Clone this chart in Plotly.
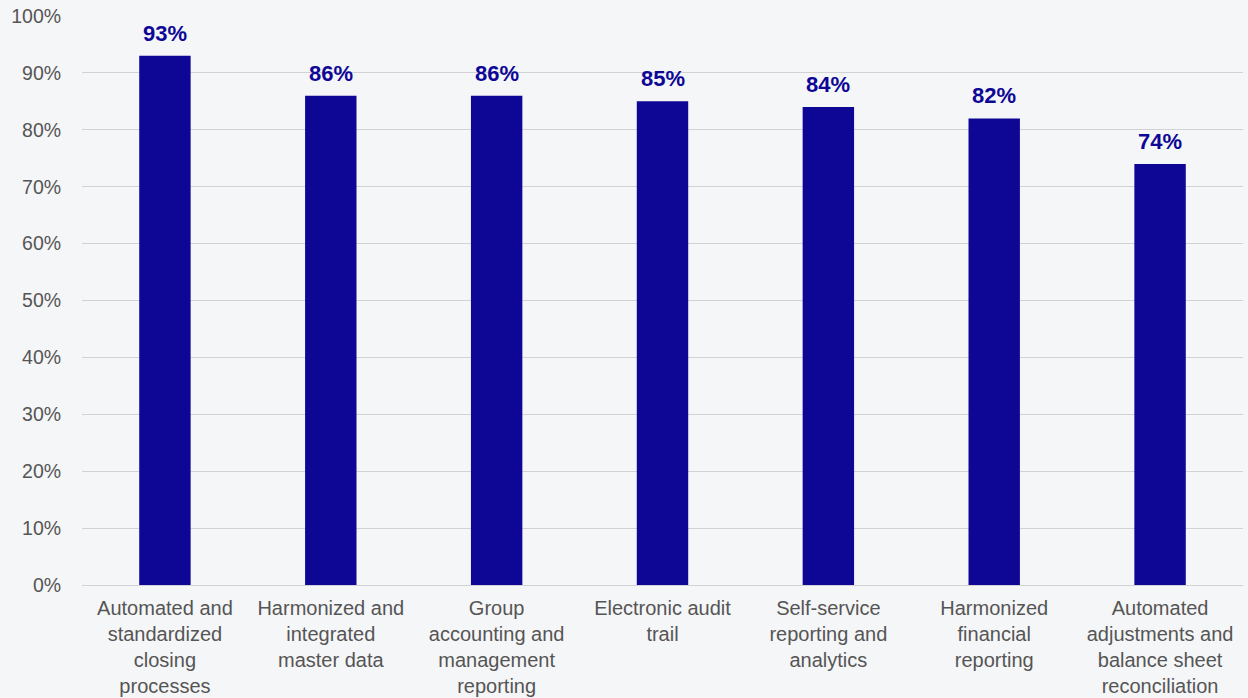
import plotly.graph_objects as go

categories = [
    "Automated and<br>standardized<br>closing<br>processes",
    "Harmonized and<br>integrated<br>master data",
    "Group<br>accounting and<br>management<br>reporting",
    "Electronic audit<br>trail",
    "Self-service<br>reporting and<br>analytics",
    "Harmonized<br>financial<br>reporting",
    "Automated<br>adjustments and<br>balance sheet<br>reconciliation",
]
values = [93, 86, 86, 85, 84, 82, 74]
tick_vals = list(range(0, 101, 10))
tick_text = [f"{v}%" for v in tick_vals]

bar_color = "#0e0796"
bg = "#f5f6f8"
font_family = "Liberation Sans, Arial, sans-serif"

fig = go.Figure(
    go.Bar(
        x=categories,
        y=values,
        marker=dict(color=bar_color, line=dict(width=0)),
        hoverinfo="x+y",
    )
)

# value labels above each bar
for cat, val in zip(categories, values):
    fig.add_annotation(
        x=cat,
        y=val,
        text=f"{val}%",
        showarrow=False,
        yanchor="bottom",
        yshift=8,
        font=dict(family=font_family, size=22, color=bar_color, weight="bold"),
    )

fig.update_layout(
    width=1248,
    height=698,
    margin=dict(l=82, r=5, t=16, b=113),
    paper_bgcolor=bg,
    plot_bgcolor=bg,
    bargap=0.69,
    showlegend=False,
    font=dict(family=font_family, size=18, color="#555555"),
    xaxis=dict(
        automargin=False,
        showgrid=False,
        showline=True,
        linecolor="#d2d2d6",
        linewidth=1,
        ticks="outside",
        ticklen=5,
        tickcolor="rgba(0,0,0,0)",
        tickfont=dict(size=20, color="#555555"),
        tickangle=0,
    ),
    yaxis=dict(
        automargin=False,
        range=[0, 100],
        tickvals=tick_vals,
        ticktext=tick_text,
        showgrid=True,
        gridcolor="#d2d2d6",
        gridwidth=1,
        zeroline=False,
        ticks="outside",
        ticklen=16,
        tickcolor="rgba(0,0,0,0)",
        tickfont=dict(size=19.5, color="#555555"),
    ),
)

fig.write_html("out.html")
